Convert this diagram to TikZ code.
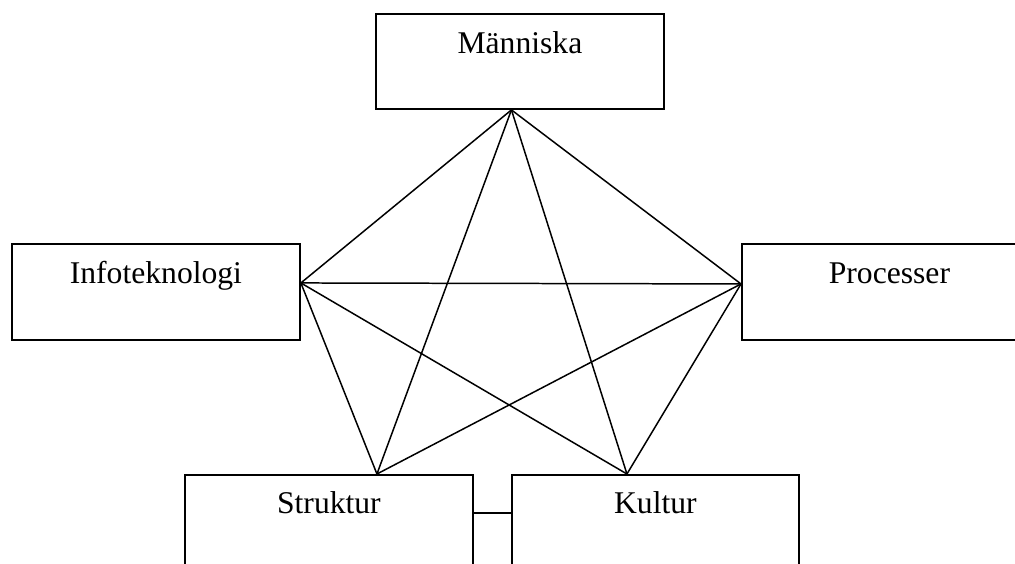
\documentclass[tikz,border=0pt]{standalone}
\usepackage{fontspec}
\setmainfont{Liberation Serif}
\usetikzlibrary{calc,positioning}
\tikzstyle{box}  = [draw,line width=1.1pt,rectangle,inner sep=0pt,minimum width=5.76cm,text height=0.8cm,text depth=1.12cm,font=\fontsize{18}{21}\selectfont]
\tikzstyle{link} = [line width=0.85pt]

\begin{document}
\begin{tikzpicture}[x=0.02cm,y=-0.02cm]
        \useasboundingbox (0,0) rectangle (1015,564);
        \clip (0,0) rectangle (1015,564);
        % the five boxes
        \node[box,anchor=north west,text depth=1.1cm] (mann) at (375,13) {Människa};
        \node[box,anchor=north west] (info) at (11,243) {Infoteknologi};
        \node[box,anchor=north west,minimum width=5.9cm] (proc) at (741,243) {Processer};
        \node[box,anchor=north west,text height=0.78cm] (strukt) at (184,474) {Struktur};
        \node[box,anchor=north west,text height=0.78cm,minimum width=5.74cm] (kult) at (511,474) {Kultur};

        % where the lines meet the boxes
        \coordinate (mB) at ($(mann.south)+(-8.5,0)$);
        \coordinate (iR) at ($(info.east)+(0,-9)$);
        \coordinate (pL) at ($(proc.west)+(0,-8)$);
        \coordinate (sT) at ($(strukt.north)+(48,0)$);
        \coordinate (kT) at ($(kult.north)+(-28.5,0)$);
        \coordinate (sR) at ($(strukt.east)+(0,-9.5)$);

        \foreach \a/\b in {mB/iR,mB/pL,mB/sT,mB/kT,iR/pL,iR/sT,iR/kT,pL/sT,pL/kT}
            \draw[link] (\a) -- (\b);
        \draw[link] (sR) -- (kult.west |- sR);
    \end{tikzpicture}
\end{document}
